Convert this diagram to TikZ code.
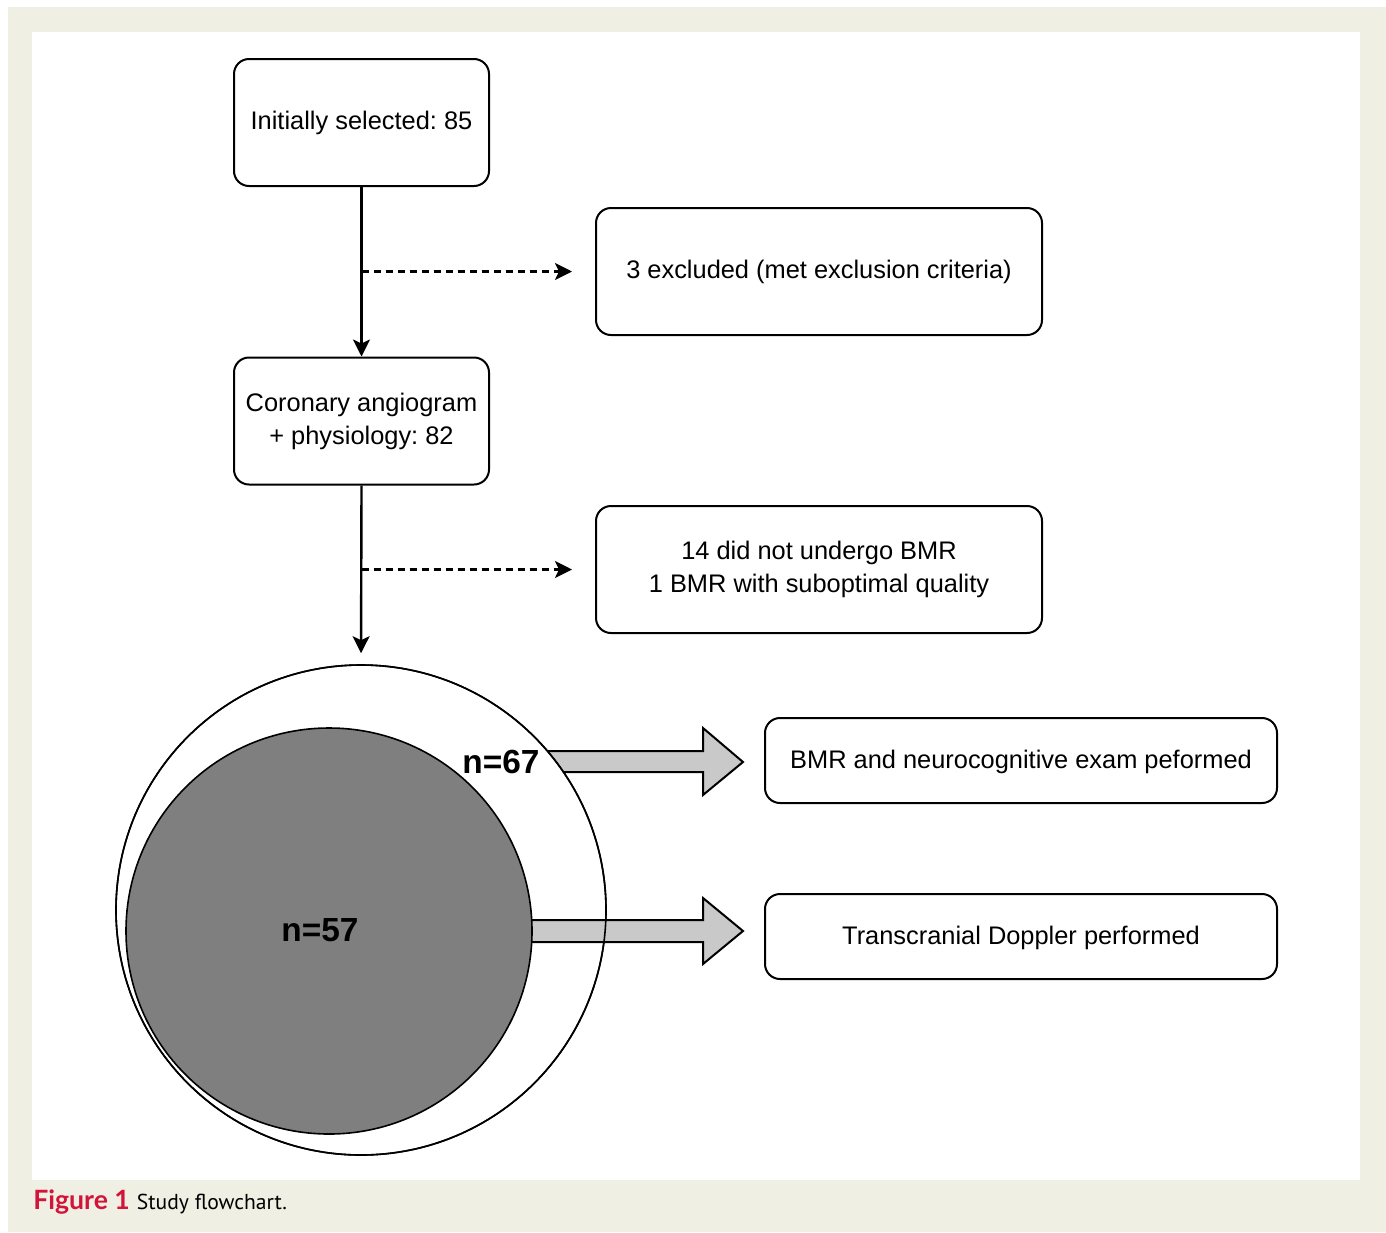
\documentclass[tikz,border=0pt]{standalone}
\usepackage{fontspec}
\setmainfont{Liberation Sans}
\newfontfamily\capfont{Lato}
\newfontfamily\capregfont{PT Sans}
\usetikzlibrary{arrows.meta}
\definecolor{bgbeige}{HTML}{EFEFE3}
\definecolor{figred}{HTML}{D2143A}
\definecolor{darkgrey}{HTML}{7F7F7F}
\definecolor{arrowgrey}{HTML}{C9C9C9}
\frenchspacing
\begin{document}
\begin{tikzpicture}[x=0.5pt,y=-0.5pt,
  box/.style={draw, line width=1pt, rounded corners=7.5pt, align=center,
    font=\fontsize{12.7}{16.5}\selectfont, inner sep=0pt},
  smallbox/.style={box, minimum width=127.5pt, minimum height=63.5pt},
  widebox/.style={box, minimum width=223pt, minimum height=63.5pt},
  longbox/.style={box, minimum width=256pt, minimum height=42.5pt, text depth=1.5pt},
  flow/.style={line width=1.2pt, -{Stealth[length=8.5pt,width=8.5pt,inset=2pt]}},
  dflow/.style={flow, dash pattern=on 3.5pt off 2.5pt},
  blockarrow/.style={draw, line width=1pt, fill=arrowgrey, line join=miter},
  numlabel/.style={font=\fontsize{16.7}{20}\selectfont\bfseries, inner sep=0pt}]
\useasboundingbox (0,0) rectangle (1386,1232);
\fill[white] (0,0) rectangle (1386,1232);
\fill[bgbeige] (8,7) rectangle (1386,1232);
\fill[white] (32,32) rectangle (1360,1180);

% boxes
\node[smallbox] (b1) at (361.5,122.5) {Initially selected: 85};
\node[widebox]  (b2) at (819,271.5) {3 excluded (met exclusion criteria)};
\node[smallbox] (b3) at (361.5,421) {Coronary angiogram\\+ physiology: 82};
\node[widebox]  (b4) at (819,569.5) {14 did not undergo BMR\\1 BMR with suboptimal quality};
\node[longbox]  (b5) at (1021,760.5) {BMR and neurocognitive exam peformed};
\node[longbox]  (b6) at (1021,936.5) {Transcranial Doppler performed};

% block arrow 1 (behind big circle)
\draw[blockarrow] (540,751) -- (703,751) -- (703,728) -- (743,762) -- (703,795) -- (703,772) -- (540,772) -- cycle;

% big circle
\node[circle, draw, line width=0.8pt, fill=white, minimum size=245pt, inner sep=0pt] (c67) at (361,910) {};

% block arrow 2
\draw[blockarrow] (520,920) -- (703,920) -- (703,898) -- (743,931) -- (703,964) -- (703,942) -- (520,942) -- cycle;
\draw[line width=0.8pt] (361,910) circle[radius=245];

% dark circle
\node[circle, draw, line width=0.8pt, fill=darkgrey, minimum size=203pt, inner sep=0pt] (c57) at (329,931) {};

\node[numlabel] (n67) at (501,762) {n=67};
\node[numlabel] (n57) at (320,930) {n=57};

% connectors
\coordinate (j1) at (b1.south |- b2.west);
\coordinate (j2) at (b3.south |- b4.west);
\draw[flow] (b1.south) -- (b3.north);
\draw[dflow] (j1) -- ([xshift=-11.5pt]b2.west);
\draw[flow, shorten >=5.5pt] (b3.south) -- (c67.north);
\draw[dflow] (j2) -- ([xshift=-11.5pt]b4.west);

% caption
\node[anchor=base west, inner sep=0pt] (cap) at (33,1209)
  {\textcolor{figred}{\capfont\fontsize{13.3}{16}\selectfont\bfseries Figure 1}\hspace{3.5pt}{\capregfont\fontsize{10.8}{14}\selectfont Study flowchart.}};
\end{tikzpicture}
\end{document}
